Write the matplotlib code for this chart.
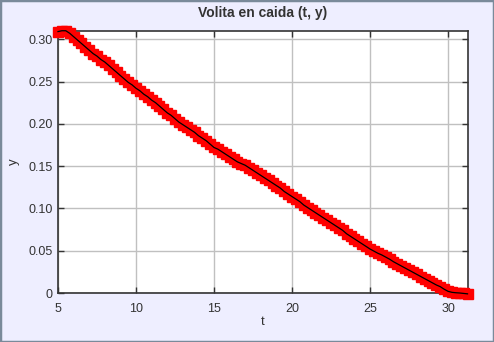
import matplotlib
matplotlib.use("Agg")
import matplotlib.pyplot as plt
from matplotlib.patches import Rectangle

plt.rcParams['font.family'] = ['Liberation Sans', 'DejaVu Sans']

title = "Volita en caida (t, y)"
x_label = "t"
y_label = "y"

t = [5.00, 5.25, 5.50, 5.75, 6.00, 6.25, 6.50, 6.75, 7.00, 7.25, 7.50, 7.75,
     8.00, 8.25, 8.50, 8.75, 9.00, 9.25, 9.50, 9.75, 10.00, 10.25, 10.50, 10.75,
     11.00, 11.25, 11.50, 11.75, 12.00, 12.25, 12.50, 12.75, 13.00, 13.25, 13.50, 13.75,
     14.00, 14.25, 14.50, 14.75, 15.00, 15.25, 15.50, 15.75, 16.00, 16.25, 16.50, 16.75,
     17.00, 17.25, 17.50, 17.75, 18.00, 18.25, 18.50, 18.75, 19.00, 19.25, 19.50, 19.75,
     20.00, 20.25, 20.50, 20.75, 21.00, 21.25, 21.50, 21.75, 22.00, 22.25, 22.50, 22.75,
     23.00, 23.25, 23.50, 23.75, 24.00, 24.25, 24.50, 24.75, 25.00, 25.25, 25.50, 25.75,
     26.00, 26.25, 26.50, 26.75, 27.00, 27.25, 27.50, 27.75, 28.00, 28.25, 28.50, 28.75,
     29.00, 29.25, 29.50, 29.75, 30.00, 30.25, 30.50, 30.75, 31.00, 31.25]
y = [0.309, 0.310, 0.310, 0.307, 0.303, 0.299, 0.295, 0.291, 0.287, 0.283, 0.280, 0.276,
     0.273, 0.269, 0.265, 0.261, 0.257, 0.253, 0.249, 0.246, 0.242, 0.239, 0.235, 0.232,
     0.228, 0.225, 0.221, 0.217, 0.213, 0.210, 0.206, 0.202, 0.199, 0.196, 0.193, 0.190,
     0.186, 0.183, 0.180, 0.176, 0.172, 0.170, 0.167, 0.164, 0.161, 0.158, 0.155, 0.153,
     0.151, 0.148, 0.145, 0.142, 0.139, 0.136, 0.133, 0.130, 0.127, 0.124, 0.120, 0.117,
     0.114, 0.111, 0.108, 0.104, 0.101, 0.098, 0.095, 0.092, 0.089, 0.086, 0.083, 0.080,
     0.077, 0.074, 0.070, 0.067, 0.064, 0.061, 0.058, 0.055, 0.052, 0.0495, 0.047, 0.045,
     0.0425, 0.040, 0.037, 0.0345, 0.032, 0.0295, 0.027, 0.0245, 0.022, 0.0195, 0.017, 0.0145,
     0.012, 0.0095, 0.0075, 0.0045, 0.002, 0.0008, 0.0003, 0.0, -0.0005, -0.001]

x_ticks = [5, 10, 15, 20, 25, 30]
x_tick_labels = ["5", "10", "15", "20", "25", "30"]
y_ticks = [0, 0.05, 0.10, 0.15, 0.20, 0.25, 0.30]
y_tick_labels = ["0", "0.05", "0.10", "0.15", "0.20", "0.25", "0.30"]

bg = "#EEEEFF"
fig = plt.figure(figsize=(4.94, 3.42), dpi=100, facecolor=bg)
fig.patches.append(Rectangle((0, 0), 1, 1, transform=fig.transFigure, fill=False,
                             edgecolor="#7A8A9A", linewidth=2.5))
ax = fig.add_axes([58/494, 49/342, 410/494, 262/342])
ax.set_facecolor("white")

ax.plot(t, y, linestyle="none", marker="s", markersize=6.5,
        markerfacecolor="red", markeredgecolor="red", clip_on=False, zorder=3)
ax.plot(t, y, color="black", linewidth=0.9, clip_on=False, zorder=4)

ax.set_xlim(5, 31.28)
ax.set_ylim(0, 0.3097)
ax.set_xticks(x_ticks)
ax.set_xticklabels(x_tick_labels)
ax.set_yticks(y_ticks)
ax.set_yticklabels(y_tick_labels)
ax.grid(True, color="#C0C0C0", linewidth=1)
ax.set_axisbelow(True)
ax.tick_params(direction="in", length=4, width=1, top=True, right=True,
               labelsize=9, colors="#333333")
ax.tick_params(axis="x", pad=7)
ax.tick_params(axis="y", pad=4)
for s in ax.spines.values():
    s.set_color("#333333")
    s.set_linewidth(1.2)

ax.set_title(title, fontsize=10, fontweight="bold", color="#333333", pad=10)
ax.set_xlabel(x_label, fontsize=9.5, color="#333333", labelpad=1)
ax.set_ylabel(y_label, fontsize=9.5, color="#333333", labelpad=6)

fig.savefig("out.png", dpi=100, facecolor=bg)
